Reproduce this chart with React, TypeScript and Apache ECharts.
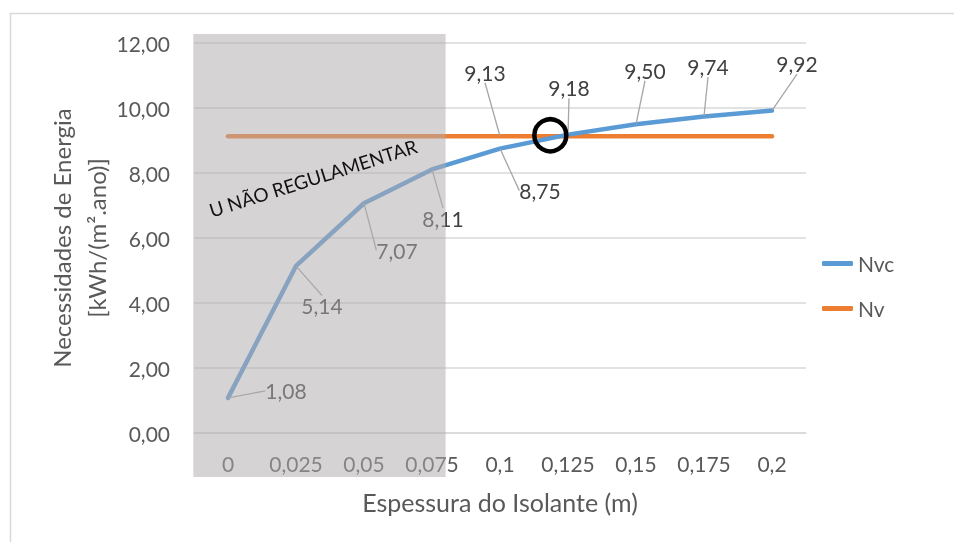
import React, { useEffect, useRef } from "react";
import * as echarts from "echarts";

const categories = ["0", "0,025", "0,05", "0,075", "0,1", "0,125", "0,15", "0,175", "0,2"];
const nvcValues = [1.08, 5.14, 7.07, 8.11, 8.75, 9.18, 9.5, 9.74, 9.92];
const nvValues = [9.13, 9.13, 9.13, 9.13, 9.13, 9.13, 9.13, 9.13, 9.13];
const nvLabelIndex = 4;
const yMin = 0;
const yMax = 12;
const yInterval = 2;
const seriesNames = ["Nvc", "Nv"];
const xTitle = "Espessura do Isolante (m)";
const yTitle = "Necessidades de Energia\n[kWh/(m².ano)]";
const zoneText = "U NÃO REGULAMENTAR";
const zoneLastIndex = 3;
const crossing = { from: 4, to: 5, frac: 0.74, value: 9.13 };

// label offsets (layout only)
const nvcLabelOffsets = [
  [58, -7],
  [26, 40],
  [33, 47],
  [11, 49],
  [40, 42],
  [1, -47],
  [9, -54],
  [4, -50],
  [25, -47],
];
const nvLabelOffset = [-15, -64];

const FONT = "Lato";
const fmt = (v: number) => v.toFixed(2).replace(".", ",");

export default function App() {
  const ref = useRef<HTMLDivElement>(null);
  useEffect(() => {
    const chart = echarts.init(ref.current!, null, { renderer: "svg" });
    const option: any = {
      animation: false,
      textStyle: { fontFamily: FONT },
      grid: { left: 194, right: 148, top: 43, bottom: 109 },
      legend: {
        data: seriesNames,
        orient: "vertical",
        left: 817,
        top: 248,
        icon: "roundRect",
        itemWidth: 31,
        itemHeight: 5,
        itemGap: 24,
        textStyle: { fontSize: 21, color: "#595959", fontFamily: FONT },
      },
      xAxis: {
        type: "category",
        data: categories,
        boundaryGap: true,
        axisLine: { show: true, lineStyle: { color: "#d9d9d9", width: 1.5 } },
        axisTick: { show: false },
        axisLabel: { interval: 0, margin: 20, fontSize: 21, color: "#595959", fontFamily: FONT },
        name: xTitle,
        nameLocation: "middle",
        nameGap: 56,
        nameMoveOverlap: false,
        nameTextStyle: { fontSize: 25, color: "#595959", fontFamily: FONT },
      },
      yAxis: {
        type: "value",
        min: yMin,
        max: yMax,
        interval: yInterval,
        axisLine: { show: false },
        axisTick: { show: false },
        splitLine: { lineStyle: { color: "#d9d9d9", width: 1.5 } },
        axisLabel: { margin: 24, fontSize: 21, color: "#595959", fontFamily: FONT, formatter: (v: number) => fmt(v) },
        name: yTitle,
        nameLocation: "middle",
        nameRotate: 90,
        nameGap: 80,
        nameMoveOverlap: false,
        nameTextStyle: { fontSize: 24, color: "#595959", fontFamily: FONT, lineHeight: 35, align: "center" },
      },
      series: [
        {
          name: seriesNames[0],
          type: "line",
          data: nvcValues,
          z: 3,
          color: "#5b9bd5",
          symbol: "circle",
          symbolSize: 1,
          showSymbol: true,
          showAllSymbol: true,
          lineStyle: { width: 4.5, color: "#5b9bd5", cap: "round", join: "round" },
          emphasis: { disabled: true },
          label: {
            show: true,
            position: "inside",
            fontSize: 21,
            color: "#404040",
            fontFamily: FONT,
            formatter: (p: any) => fmt(p.value),
          },
          labelLine: { show: true, lineStyle: { color: "#a6a6a6", width: 1.3 } },
          labelLayout: (p: any) => ({ dx: nvcLabelOffsets[p.dataIndex][0], dy: nvcLabelOffsets[p.dataIndex][1] }),
        },
        {
          name: seriesNames[1],
          type: "line",
          z: 2,
          data: nvValues.map((v, i) => (i === nvLabelIndex ? { value: v, label: { show: true } } : v)),
          color: "#ed7d31",
          symbol: "circle",
          symbolSize: 1,
          showSymbol: true,
          showAllSymbol: true,
          lineStyle: { width: 4.5, color: "#ed7d31", cap: "round", join: "round" },
          emphasis: { disabled: true },
          label: {
            show: false,
            position: "inside",
            fontSize: 21,
            color: "#404040",
            fontFamily: FONT,
            formatter: (p: any) => fmt(p.value),
          },
          labelLine: { show: true, lineStyle: { color: "#a6a6a6", width: 1.3 } },
          labelLayout: (p: any) => (p.dataIndex === nvLabelIndex ? { dx: nvLabelOffset[0], dy: nvLabelOffset[1] } : {}),
        },
      ],
    };
    chart.setOption(option);

    const px = (i: number, v: number) => chart.convertToPixel({ gridIndex: 0 } as any, [i, v]) as number[];
    const p0 = px(0, yMax);
    const p3 = px(zoneLastIndex, yMin);
    const step = px(1, 0)[0] - px(0, 0)[0];
    const zoneLeft = p0[0] - step * 0.51;
    const zoneRight = p3[0] + step * 0.2;
    const zoneTop = p0[1] - 9;
    const zoneBottom = p3[1] + 44;
    const tBase = px(1, 7.85);
    const textX = tBase[0] + step * 0.25;
    const textY = tBase[1];
    const a = px(crossing.from, crossing.value);
    const b = px(crossing.to, crossing.value);
    const cx = a[0] + (b[0] - a[0]) * crossing.frac;
    const cy = a[1] - 1;

    chart.setOption({
      graphic: [
        {
          type: "rect",
          z: 0,
          silent: true,
          shape: { x: 10.5, y: 13.5, width: 1000, height: 600 },
          style: { fill: "none", stroke: "#d9d9d9", lineWidth: 1.5 },
        },
        {
          type: "rect",
          z: 100,
          silent: true,
          shape: { x: zoneLeft, y: zoneTop, width: zoneRight - zoneLeft, height: zoneBottom - zoneTop },
          style: { fill: "rgba(177,171,173,0.52)" },
        },
        {
          type: "text",
          z: 101,
          silent: true,
          x: textX,
          y: textY,
          rotation: (17.5 * Math.PI) / 180,
          style: {
            text: zoneText,
            fill: "#111111",
            font: `19px ${FONT}`,
            align: "center",
            verticalAlign: "middle",
          },
        },
        {
          type: "circle",
          z: 102,
          silent: true,
          shape: { cx, cy, r: 16 },
          style: { fill: "none", stroke: "#000000", lineWidth: 4.5 },
        },
      ],
    });
    return () => chart.dispose();
  }, []);
  return <div ref={ref} style={{ position: "fixed", left: 0, top: 0, width: 954, height: 542 }} />;
}
